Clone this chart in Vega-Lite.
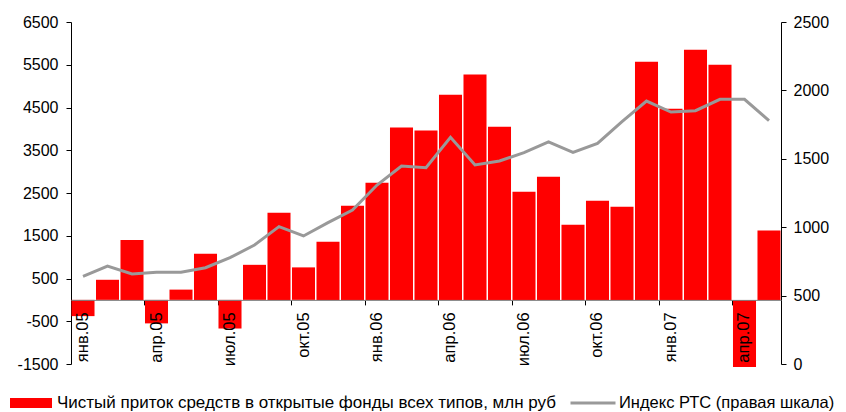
{
  "$schema": "https://vega.github.io/schema/vega-lite/v6.json",
  "autosize": "none",
  "width": 710,
  "height": 342,
  "padding": {"left": 71, "top": 22, "right": 65, "bottom": 48},
  "config": {
    "view": {"stroke": null},
    "font": "Liberation Sans",
    "axis": {"labelFont": "Liberation Sans", "labelColor": "#000000", "grid": false, "domainColor": "#000000", "tickColor": "#000000"}
  },
  "data": {
    "values": [
      {"month": "янв.05", "flow": -380, "rts": 640},
      {"month": "фев.05", "flow": 470, "rts": 716},
      {"month": "мар.05", "flow": 1400, "rts": 658},
      {"month": "апр.05", "flow": -550, "rts": 670},
      {"month": "май.05", "flow": 240, "rts": 670},
      {"month": "июн.05", "flow": 1080, "rts": 704},
      {"month": "июл.05", "flow": -670, "rts": 777},
      {"month": "авг.05", "flow": 820, "rts": 870},
      {"month": "сен.05", "flow": 2040, "rts": 1004},
      {"month": "окт.05", "flow": 760, "rts": 936},
      {"month": "ноя.05", "flow": 1360, "rts": 1033},
      {"month": "дек.05", "flow": 2200, "rts": 1126},
      {"month": "янв.06", "flow": 2740, "rts": 1308},
      {"month": "фев.06", "flow": 4030, "rts": 1447},
      {"month": "мар.06", "flow": 3960, "rts": 1435},
      {"month": "апр.06", "flow": 4800, "rts": 1657},
      {"month": "май.06", "flow": 5270, "rts": 1455},
      {"month": "июн.06", "flow": 4050, "rts": 1484},
      {"month": "июл.06", "flow": 2530, "rts": 1545},
      {"month": "авг.06", "flow": 2880, "rts": 1623},
      {"month": "сен.06", "flow": 1760, "rts": 1547},
      {"month": "окт.06", "flow": 2320, "rts": 1613},
      {"month": "ноя.06", "flow": 2180, "rts": 1771},
      {"month": "дек.06", "flow": 5570, "rts": 1922},
      {"month": "янв.07", "flow": 4470, "rts": 1842},
      {"month": "фев.07", "flow": 5850, "rts": 1852},
      {"month": "мар.07", "flow": 5500, "rts": 1935},
      {"month": "апр.07", "flow": -1570, "rts": 1935},
      {"month": "май.07", "flow": 1620, "rts": 1779}
    ]
  },
  "layer": [
    {
      "mark": {"type": "bar"},
      "encoding": {
        "x": {
          "field": "month", "type": "ordinal", "sort": null,
          "scale": {"paddingInner": 0.06, "paddingOuter": 0.02},
          "axis": {
            "title": null, "orient": "bottom", "offset": -64.1,
            "values": ["янв.05","апр.05","июл.05","окт.05","янв.06","апр.06","июл.06","окт.06","янв.07","апр.07"],
            "labelAngle": -90, "labelFontSize": 16.5, "labelPadding": 12,
            "ticks": false, "domain": true, "domainColor": "#808080", "domainWidth": 1,
            "zindex": 1
          }
        },
        "y": {
          "field": "flow", "type": "quantitative",
          "scale": {"domain": [-1500, 6500], "nice": false, "zero": false},
          "axis": {
            "title": null, "orient": "left",
            "values": [-1500,-500,500,1500,2500,3500,4500,5500,6500],
            "labelExpr": "'' + datum.value",
            "labelFontSize": 16, "tickSize": 5, "labelPadding": 8
          }
        },
        "fill": {
          "datum": "Чистый приток средств в открытые фонды всех типов, млн руб",
          "scale": {"range": ["#ff0000"]},
          "legend": {
            "title": null, "orient": "none", "legendX": -61, "legendY": 360,
            "padding": 0, "symbolType": "M-1,-0.24H1V0.24H-1Z", "symbolSize": 1764,
            "symbolStrokeWidth": 0, "labelFontSize": 17, "labelOffset": 5, "labelColor": "#000000",
            "labelFont": "Liberation Sans", "labelLimit": 0
          }
        }
      }
    },
    {
      "mark": {"type": "line", "strokeWidth": 3},
      "encoding": {
        "x": {
          "field": "month", "type": "ordinal", "sort": null,
          "axis": {
            "title": null, "orient": "bottom", "offset": -64.1,
            "values": ["янв.05","апр.05","июл.05","окт.05","янв.06","апр.06","июл.06","окт.06","янв.07","апр.07"],
            "bandPosition": 0, "labels": false, "ticks": true, "tickSize": 5, "domain": false
          }
        },
        "y": {
          "field": "rts", "type": "quantitative",
          "scale": {"domain": [0, 2500], "nice": false},
          "axis": {
            "title": null, "orient": "right",
            "values": [0,500,1000,1500,2000,2500],
            "labelExpr": "'' + datum.value",
            "labelFontSize": 16, "tickSize": 5, "labelPadding": 7
          }
        },
        "stroke": {
          "datum": "Индекс РТС (правая шкала)",
          "scale": {"range": ["#999999"]},
          "legend": {
            "title": null, "orient": "none", "legendX": 498, "legendY": 357,
            "padding": 0, "symbolType": "stroke", "symbolSize": 2025,
            "symbolStrokeWidth": 3, "labelFontSize": 16.5, "labelOffset": 2, "labelColor": "#000000",
            "labelFont": "Liberation Sans", "labelLimit": 0
          }
        }
      }
    }
  ],
  "resolve": {"scale": {"y": "independent"}, "axis": {"x": "independent"}}
}
